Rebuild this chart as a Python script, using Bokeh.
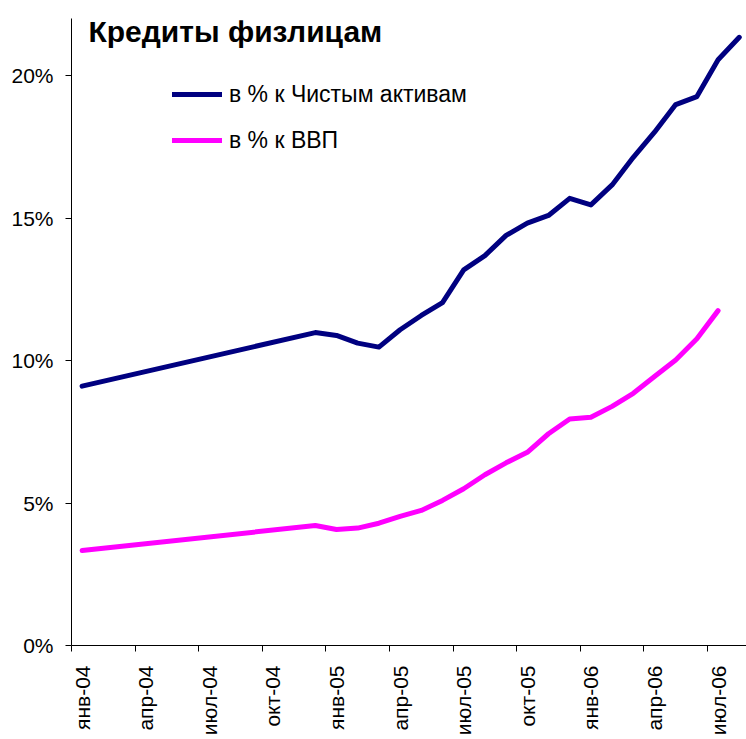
from bokeh.plotting import figure
from bokeh.models import FixedTicker, Label, Legend, LegendItem, Range1d, ColumnDataSource
from bokeh.embed import file_html
from bokeh.resources import INLINE
import math

# ---- data ----
months = ["2004-01", "2004-12", "2005-01", "2005-02", "2005-03", "2005-04", "2005-05",
          "2005-06", "2005-07", "2005-08", "2005-09", "2005-10", "2005-11", "2005-12",
          "2006-01", "2006-02", "2006-03", "2006-04", "2006-05", "2006-06", "2006-07",
          "2006-08"]
pct_net_assets = [9.10, 10.98, 10.88, 10.61, 10.47, 11.08, 11.58, 12.03, 13.18, 13.68,
                  14.39, 14.82, 15.09, 15.69, 15.46, 16.16, 17.13, 18.01, 18.98, 19.26,
                  20.55, 21.34]
pct_gdp = [3.33, 4.21, 4.07, 4.12, 4.29, 4.53, 4.74, 5.09, 5.50, 5.99, 6.41, 6.78, 7.43,
           7.95, 8.01, 8.39, 8.85, 9.44, 10.02, 10.76, 11.75, float("nan")]
x_tick_months = ["2004-01", "2004-04", "2004-07", "2004-10", "2005-01", "2005-04",
                 "2005-07", "2005-10", "2006-01", "2006-04", "2006-07"]
x_tick_labels = ["янв-04", "апр-04", "июл-04", "окт-04", "янв-05", "апр-05", "июл-05",
                 "окт-05", "янв-06", "апр-06", "июл-06"]
y_ticks = [0, 5, 10, 15, 20]
y_tick_labels = ["0%", "5%", "10%", "15%", "20%"]
title_text = "Кредиты физлицам"
series_names = ["в % к Чистым активам", "в % к ВВП"]


def month_index(s):
    y, m = s.split("-")
    return (int(y) - 2004) * 12 + int(m) - 1


x_mid = [month_index(s) + 0.5 for s in months]
src = ColumnDataSource(dict(x=x_mid, a=pct_net_assets, g=pct_gdp))

FONT = "Liberation Sans"

p = figure(width=746, height=739, output_backend="svg", toolbar_location=None,
           x_range=Range1d(0, 31.84), y_range=Range1d(0, 22.0),
           min_border_left=71, min_border_right=0, min_border_top=18, min_border_bottom=94)
p.outline_line_color = None
p.xgrid.visible = False
p.ygrid.visible = False
p.background_fill_color = "white"
p.border_fill_color = "white"

r1 = p.line("x", "a", source=src, line_color="#000080", line_width=5,
            line_join="round", line_cap="round")
r2 = p.line("x", "g", source=src, line_color="#FF00FF", line_width=5,
            line_join="round", line_cap="round")

# x axis: labels centred in the month slot, tick marks on month boundaries
tick_idx = [month_index(s) for s in x_tick_months]
xa = p.xaxis[0]
xa.ticker = FixedTicker(ticks=[i + 0.5 for i in tick_idx], minor_ticks=tick_idx)
xa.major_label_overrides = {i + 0.5: lab for i, lab in zip(tick_idx, x_tick_labels)}
xa.major_label_orientation = math.pi / 2
xa.major_tick_line_color = None
xa.major_tick_out = 0
xa.major_tick_in = 0
xa.minor_tick_line_color = "black"
xa.minor_tick_out = 6
xa.minor_tick_in = 0
xa.major_label_standoff = 14
xa.major_label_text_font = FONT
xa.major_label_text_font_size = "21px"
xa.major_label_text_color = "black"
xa.axis_line_color = "black"

ya = p.yaxis[0]
ya.ticker = FixedTicker(ticks=y_ticks, minor_ticks=[])
ya.major_label_overrides = {t: lab for t, lab in zip(y_ticks, y_tick_labels)}
ya.major_tick_out = 6
ya.major_tick_in = 0
ya.major_tick_line_color = "black"
ya.minor_tick_line_color = None
ya.major_label_standoff = 12
ya.major_label_text_font = FONT
ya.major_label_text_font_size = "21px"
ya.major_label_text_color = "black"
ya.axis_line_color = "black"

title = Label(x=0.80, y=21.54, text=title_text, text_font=FONT, text_font_size="30px",
              text_font_style="bold", text_color="black", text_baseline="alphabetic")
p.add_layout(title)

legend = Legend(items=[LegendItem(label=series_names[0], renderers=[r1]),
                       LegendItem(label=series_names[1], renderers=[r2])],
                location=(101, 490), orientation="vertical")
legend.padding = 0
legend.margin = 0
legend.spacing = 16
legend.glyph_width = 50
legend.glyph_height = 30
legend.label_height = 30
legend.label_standoff = 7
legend.label_text_font = FONT
legend.label_text_font_size = "23px"
legend.label_text_color = "black"
legend.border_line_color = None
legend.background_fill_alpha = 0
p.add_layout(legend, "center")

open("out.html", "w").write(file_html(p, INLINE))
